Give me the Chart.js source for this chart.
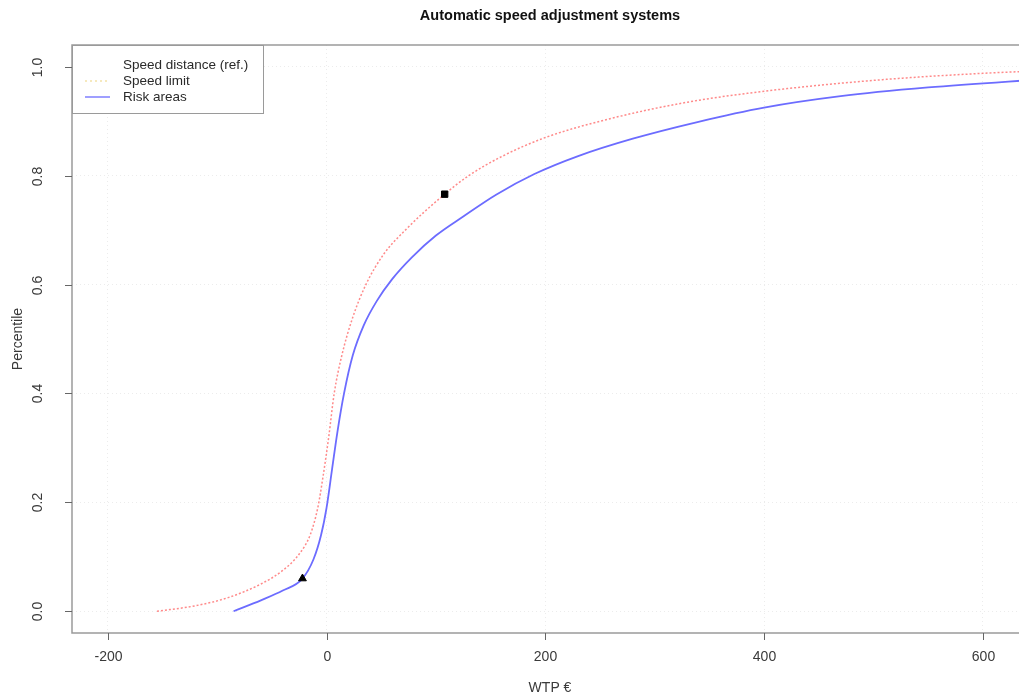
<!DOCTYPE html>
<html>
<head>
<meta charset="utf-8">
<script src="https://cdn.jsdelivr.net/npm/chart.js@4.4.1/dist/chart.umd.min.js"></script>
<style>
  html, body { margin: 0; padding: 0; background: #fff; overflow: hidden; }
  #wrap { width: 1019px; height: 699px; overflow: hidden; }
  #box { width: 1060px; height: 699px; }
</style>
</head>
<body>
<div id="wrap"><div id="box"><canvas id="cdfChart"></canvas></div></div>
<script>
// values
const seriesLabels = ['Speed distance (ref.)', 'Speed limit', 'Risk areas'];

const limitX = [-155, -120, -90, -60, -40, -25, -15, -8, -3, 2, 7, 14, 24, 36, 52, 72, 108, 130, 160, 200, 260, 330, 400, 500, 600, 660];
const limitY = [0, 0.01, 0.025, 0.05, 0.075, 0.105, 0.14, 0.19, 0.25, 0.32, 0.40, 0.47, 0.54, 0.60, 0.655, 0.70, 0.766, 0.80, 0.835, 0.87, 0.905, 0.935, 0.955, 0.975, 0.988, 0.993];

const riskX = [-85, -60, -40, -22, -12, -5, 0, 5, 10, 16, 24, 34, 46, 60, 78, 100, 125, 155, 190, 230, 280, 340, 400, 470, 550, 660];
const riskY = [0, 0.02, 0.038, 0.06, 0.095, 0.14, 0.19, 0.26, 0.33, 0.40, 0.47, 0.525, 0.57, 0.61, 0.65, 0.69, 0.725, 0.765, 0.803, 0.836, 0.868, 0.899, 0.925, 0.946, 0.962, 0.978];

const squareMark = [108, 0.766];
const triangleMark = [-22, 0.06];

const xTicks = [-200, 0, 200, 400, 600];
const yTicks = [0, 0.2, 0.4, 0.6, 0.8, 1.0];

const toPoints = (xs, ys) => xs.map((x, i) => ({ x: x, y: ys[i] }));

const FONT = '"Liberation Sans", Arial, sans-serif';

// R-style frame, ticks, rotated y labels, titles and legend
const rDecor = {
    id: 'rDecor',
    afterDraw(chart) {
        const ctx = chart.ctx;
        const a = chart.chartArea;
        const xs = chart.scales.x, ys = chart.scales.y;
        ctx.save();
        ctx.strokeStyle = '#9a9a9a';
        ctx.lineWidth = 1.5;
        ctx.beginPath();
        ctx.moveTo(a.right + 5, a.top);
        ctx.lineTo(a.left, a.top);
        ctx.lineTo(a.left, a.bottom);
        ctx.lineTo(a.right + 5, a.bottom);
        ctx.stroke();

        ctx.lineWidth = 1;
        ctx.strokeStyle = '#666';
        ctx.fillStyle = '#3a3a3a';
        ctx.font = '14px ' + FONT;
        ctx.textAlign = 'center';
        ctx.textBaseline = 'middle';
        xTicks.forEach(v => {
            const px = Math.round(xs.getPixelForValue(v)) + 0.5;
            ctx.beginPath(); ctx.moveTo(px, a.bottom); ctx.lineTo(px, a.bottom + 7); ctx.stroke();
            ctx.fillText(String(v), px, a.bottom + 24);
        });
        yTicks.forEach(v => {
            const py = Math.round(ys.getPixelForValue(v)) + 0.5;
            ctx.beginPath(); ctx.moveTo(a.left - 7, py); ctx.lineTo(a.left, py); ctx.stroke();
            ctx.save();
            ctx.translate(a.left - 34, py);
            ctx.rotate(-Math.PI / 2);
            ctx.fillText(v.toFixed(1), 0, 0);
            ctx.restore();
        });

        // axis titles
        ctx.fillText('WTP €', 550, 688);
        ctx.save();
        ctx.translate(18, (a.top + a.bottom) / 2);
        ctx.rotate(-Math.PI / 2);
        ctx.fillText('Percentile', 0, 0);
        ctx.restore();

        // main title
        ctx.font = 'bold 14.5px ' + FONT;
        ctx.fillStyle = '#111';
        ctx.fillText('Automatic speed adjustment systems', 550, 16);

        // legend
        const lx = a.left, ly = a.top, lw = 191, lh = 68;
        ctx.fillStyle = '#fff';
        ctx.fillRect(lx, ly, lw, lh);
        ctx.strokeStyle = '#9a9a9a';
        ctx.lineWidth = 1;
        ctx.strokeRect(lx + 0.5, ly + 0.5, lw, lh);
        const styles = [
            { color: 'rgba(255,255,255,0)', dash: [] },
            { color: '#f3e2a8', dash: [2, 3] },
            { color: '#7f7fff', dash: [] }
        ];
        ctx.font = '13.5px ' + FONT;
        ctx.textAlign = 'left';
        seriesLabels.forEach((lab, i) => {
            const y = ly + 20 + i * 16;
            ctx.strokeStyle = styles[i].color;
            ctx.setLineDash(styles[i].dash);
            ctx.lineWidth = 1.5;
            ctx.beginPath(); ctx.moveTo(lx + 13, y); ctx.lineTo(lx + 38, y); ctx.stroke();
            ctx.setLineDash([]);
            ctx.fillStyle = '#2a2a2a';
            ctx.fillText(lab, lx + 51, y);
        });
        ctx.restore();
    }
};

new Chart(document.getElementById('cdfChart'), {
    type: 'scatter',
    data: {
        datasets: [
            {
                label: seriesLabels[1],
                data: toPoints(limitX, limitY),
                showLine: true,
                borderColor: '#ff8a8a',
                borderWidth: 1.5,
                borderDash: [2, 2],
                pointRadius: 0,
                cubicInterpolationMode: 'monotone',
                order: 2
            },
            {
                label: seriesLabels[2],
                data: toPoints(riskX, riskY),
                showLine: true,
                borderColor: '#6c6cff',
                borderWidth: 1.8,
                pointRadius: 0,
                cubicInterpolationMode: 'monotone',
                order: 2
            },
            {
                label: 'mark1',
                data: [{ x: squareMark[0], y: squareMark[1] }],
                pointStyle: 'rect',
                pointRadius: 4.5,
                borderWidth: 1,
                backgroundColor: '#000',
                borderColor: '#000',
                order: 0
            },
            {
                label: 'mark2',
                data: [{ x: triangleMark[0], y: triangleMark[1] }],
                pointStyle: 'triangle',
                pointRadius: 4.5,
                borderWidth: 1,
                backgroundColor: '#000',
                borderColor: '#000',
                order: 0
            }
        ]
    },
    options: {
        responsive: true,
        maintainAspectRatio: false,
        animation: false,
        clip: false,
        layout: { padding: { top: 45, left: 0, right: 0, bottom: 0 } },
        plugins: {
            legend: { display: false },
            tooltip: { enabled: false }
        },
        scales: {
            x: {
                type: 'linear',
                min: -232.7,
                max: 665.5,
                afterBuildTicks: s => { s.ticks = xTicks.map(v => ({ value: v })); },
                afterFit: s => { s.height = 66; },
                grid: { color: '#ececec', drawTicks: false },
                border: { display: false, dash: [1, 3] },
                ticks: { display: false }
            },
            y: {
                type: 'linear',
                min: -0.04,
                max: 1.04,
                afterBuildTicks: s => { s.ticks = yTicks.map(v => ({ value: v })); },
                afterFit: s => { s.width = 72; },
                grid: { color: '#ececec', drawTicks: false },
                border: { display: false, dash: [1, 3] },
                ticks: { display: false }
            }
        }
    },
    plugins: [rDecor]
});
</script>
</body>
</html>
